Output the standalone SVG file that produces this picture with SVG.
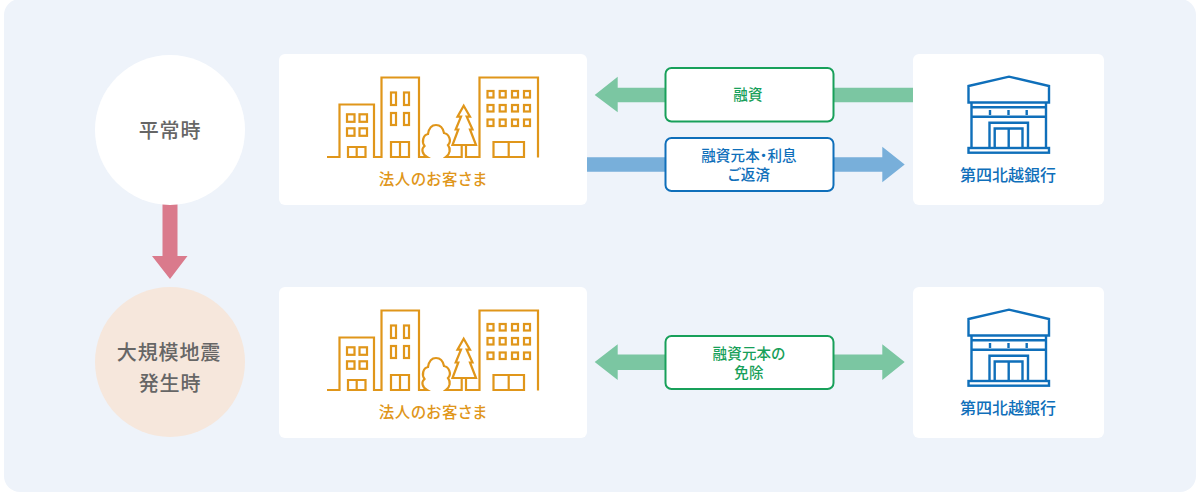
<svg xmlns="http://www.w3.org/2000/svg" width="1200" height="493" viewBox="0 0 1200 493">
<style>
text{font-family:"Noto Sans CJK JP","Noto Sans",sans-serif;font-weight:500;text-anchor:middle;font-feature-settings:"palt"}
.card{fill:#fff}
.o{fill:none;stroke:#e0961a;stroke-width:2.2}
.b{fill:none;stroke:#0f6fba;stroke-width:2.4}
.ot{fill:#e0961a;font-size:15.5px;letter-spacing:.6px}
.bt{fill:#0f6fba;font-size:16px}
.st{fill:#666;font-size:20px;letter-spacing:.9px}
.lg{fill:#fff;stroke:#18a05a;stroke-width:2}
.lb{fill:#fff;stroke:#0f6fba;stroke-width:2}
.g{fill:#18a05a;font-size:14.5px;letter-spacing:.2px}
.bl{fill:#0f6fba;font-size:14.5px;letter-spacing:.2px}
.ag{fill:#7bc6a2}.ab{fill:#78afda}.ap{fill:#da7a8c}
</style>
<defs>
<g id="city">
<path class="o" d="M327 157H339.5V104.5H374V157H381.5V77.5H419V157H427C422 154 421 149 424.5 146C421.5 142 423 135 428 134C429 128 432 125 436 125C440 125 443 128 444 133C449 134 452 141 448 145C451 149 450 154 446 157H461.7V145.500"/>
<path class="o" d="M466 145.500V157H479.500V77.500H538V157.500"/>
<path class="o" d="M463.700 105.700L470 116.700H466.700L472.500 129.500H470L476 145H452.500L458.300 129.500H455.700L461 116.700H457.500Z"/>
<g class="o">
<rect x="347" y="114.300" width="7.500" height="7.500"/><rect x="359.500" y="114.300" width="7.500" height="7.500"/>
<rect x="347" y="128.300" width="7.500" height="7.500"/><rect x="359.500" y="128.300" width="7.500" height="7.500"/>
<path d="M348 157V147H365.500V157ZM356.700 147V157"/>
<rect x="391" y="92.500" width="5" height="12.500"/><rect x="404" y="92.500" width="5" height="12.500"/>
<rect x="391" y="113" width="5" height="12"/><rect x="404" y="113" width="5" height="12"/>
<path d="M391 157V142H409V157ZM400 142V157"/>
<rect x="487.500" y="91" width="6" height="6.500"/><rect x="499.700" y="91" width="6" height="6.500"/><rect x="512" y="91" width="6" height="6.500"/><rect x="524" y="91" width="6" height="6.500"/>
<rect x="487.500" y="105" width="6" height="6.500"/><rect x="499.700" y="105" width="6" height="6.500"/><rect x="512" y="105" width="6" height="6.500"/><rect x="524" y="105" width="6" height="6.500"/>
<rect x="487.500" y="119.500" width="6" height="6.500"/><rect x="499.700" y="119.500" width="6" height="6.500"/><rect x="512" y="119.500" width="6" height="6.500"/><rect x="524" y="119.500" width="6" height="6.500"/>
<path d="M493.500 157V142H524V157ZM508.700 142V157"/>
</g>
</g>
<g id="bank" class="b">
<path d="M968.500 86L1009 76.700L1049 86V102.500H968.500Z"/>
<path d="M971.500 102.500V148M1046 102.500V148M971.500 107.300H1046M971.500 116.700H1046"/>
<path d="M990 110V115M1008.500 110V115M1026.700 110V115"/>
<rect x="968.500" y="148" width="80.500" height="4.700"/>
<path d="M989.500 148V122.700H1028V148M994.700 148V128.500H1022.500V148M1008.700 128.500V148"/>
</g>
</defs>
<rect x="4" y="-1" width="1192" height="493" rx="16" fill="#eef3fa"/>
<g id="connectors">
<path id="c-ticket" class="ap" d="M162.500 204H177.500V256H187.500L170 279L152 256H162.500Z"/>
<path id="c-loan" class="ag" d="M913 87.700H617.700V76.700L594.700 95L617.700 112.300V102.300H913Z"/>
<path id="c-repay" class="ab" d="M587 157.300H882.300V146.700L904.700 164.500L882.300 182.300V171.700H587Z"/>
<path id="c-exempt" class="ag" d="M594.700 362L617.700 344.300V354.500H882.300V344.300L904.700 362L882.300 380V370H617.700V380Z"/>
</g>
<g id="normal"><circle cx="170" cy="130" r="75" fill="#fff"/><text class="st" x="170" y="137.500">平常時</text></g>
<g id="quake"><circle cx="170" cy="362" r="75" fill="#f6e7dc"/><text class="st" x="169" y="359.500">大規模地震</text><text class="st" x="170" y="391">発生時</text></g>
<g id="customer1"><rect class="card" x="279" y="54" width="308" height="151" rx="6"/><use href="#city"/><text class="ot" x="433" y="184.500">法人のお客さま</text></g>
<g id="bank1"><rect class="card" x="913" y="54" width="191" height="151" rx="6"/><use href="#bank"/><text class="bt" x="1008" y="181">第四北越銀行</text></g>
<g id="customer2"><rect class="card" x="279" y="287" width="308" height="151" rx="6"/><use href="#city" y="233"/><text class="ot" x="433" y="417.500">法人のお客さま</text></g>
<g id="bank2"><rect class="card" x="913" y="287" width="191" height="151" rx="6"/><use href="#bank" y="233"/><text class="bt" x="1008" y="414">第四北越銀行</text></g>
<g id="label-loan"><rect class="lg" x="665.500" y="68" width="168" height="53.500" rx="6"/><text class="g" x="748" y="100">融資</text></g>
<g id="label-repay"><rect class="lb" x="665.500" y="138" width="168" height="53" rx="6"/><text class="bl" x="749" y="160.500">融資元本・利息</text><text class="bl" x="749" y="180">ご返済</text></g>
<g id="label-exempt"><rect class="lg" x="665.500" y="336" width="168" height="53" rx="6"/><text class="g" x="749" y="358.500">融資元本の</text><text class="g" x="749" y="378">免除</text></g>
</svg>
